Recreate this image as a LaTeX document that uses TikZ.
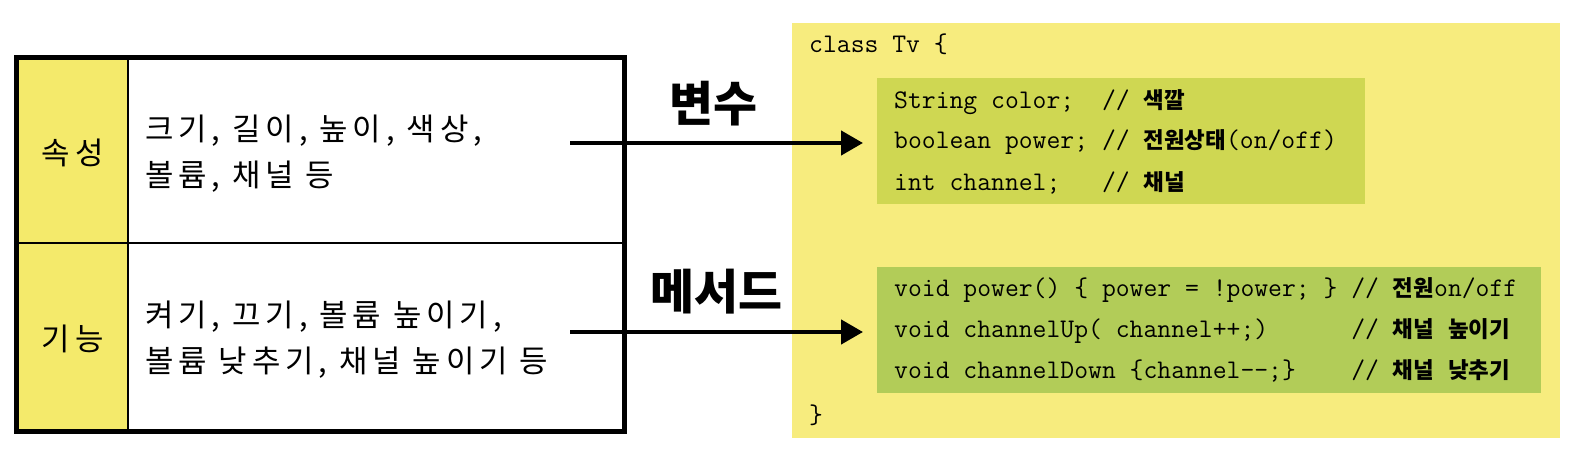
\documentclass[tikz,border=0pt]{standalone}
\usepackage{fontspec}
\setmainfont{Noto Sans CJK KR}[LetterSpace=16]
\newfontfamily\krfont{Noto Sans CJK KR}
\usetikzlibrary{arrows.meta}
\definecolor{codeY}{HTML}{F7EC7E}
\definecolor{cellY}{HTML}{F4EA6B}
\definecolor{grnA}{HTML}{CFD752}
\definecolor{grnB}{HTML}{B2CC58}
\newcommand\korb[1]{{\krfont\bfseries\fontsize{22.5}{26}\selectfont #1}}
\begin{document}
\begin{tikzpicture}[x=1bp,y=-1bp,
  cellbox/.style={draw=black, line width=2.2bp, anchor=north west, inner sep=0pt},
  celltext/.style={font=\fontsize{31}{46}\selectfont, inner sep=0pt},
  codeline/.style={anchor=base west, inner sep=0pt, font=\fontsize{27}{30}\selectfont\ttfamily},
  biglabel/.style={font=\fontsize{48}{52}\selectfont\krfont\bfseries, inner sep=0pt},
  arr/.style={line width=4.5bp, -{Triangle[length=22bp,width=24bp]}}
]
\useasboundingbox (0,0) rectangle (1576,462);
% table
\node[cellbox, fill=cellY, minimum width=110.5bp, minimum height=184.5bp] (c11) at (16.5,57.5) {};
\node[cellbox, fill=white, minimum width=495bp, minimum height=184.5bp] (c12) at (127,57.5) {};
\node[cellbox, fill=cellY, minimum width=110.5bp, minimum height=187bp] (c21) at (16.5,242) {};
\node[cellbox, fill=white, minimum width=495bp, minimum height=187bp] (c22) at (127,242) {};
\draw[line width=5bp] (c11.north west) rectangle (c22.south east);
\node[celltext] (t11) at (c11.center |- 0,153) {속성};
\node[celltext] (t21) at (c21.center |- 0,339) {기능};
\node[celltext, anchor=west, align=left] (t12) at (145,154) {크기, 길이, 높이, 색상,\\볼륨, 채널 등};
\node[celltext, anchor=west, align=left] (t22) at (145,340) {켜기, 끄기, 볼륨 높이기,\\볼륨 낮추기, 채널 높이기 등};
% code area
\node[anchor=north west, fill=codeY, minimum width=768bp, minimum height=415bp, inner sep=0pt] (cls) at (792,23) {};
\node[anchor=north west, fill=grnA, minimum width=488bp, minimum height=126bp, inner sep=0pt] (g1) at (877,78) {};
\node[anchor=north west, fill=grnB, minimum width=664bp, minimum height=126bp, inner sep=0pt] (g2) at (877,267) {};
\node[codeline] (l0) at (809,53) {class Tv \{};
\node[codeline] (l1) at (894,109) {String color;~~// \korb{색깔}};
\node[codeline] (l2) at (894,149) {boolean power; // \korb{전원상태}(on/off)};
\node[codeline] (l3) at (894,191) {int channel;~~~// \korb{채널}};
\node[codeline] (l4) at (894,297) {void power() \{ power = !power; \} // \korb{전원}on/off};
\node[codeline] (l5) at (894,338) {void channelUp( channel++;)~~~~~~// \korb{채널} \korb{높이기}};
\node[codeline] (l6) at (894,379) {void channelDown \{channel-{}-;\}~~~~// \korb{채널} \korb{낮추기}};
\node[codeline] (l7) at (809,423) {\}};
% labels
\node[biglabel] (v) at (713,104) {변수};
\node[biglabel] (m) at (716,292) {메서드};
% arrows
\coordinate (s1) at (570,143);
\coordinate (e1) at (863,143);
\coordinate (s2) at (570,332);
\coordinate (e2) at (863,332);
\draw[arr] (s1) -- (e1);
\draw[arr] (s2) -- (e2);
\end{tikzpicture}
\end{document}
